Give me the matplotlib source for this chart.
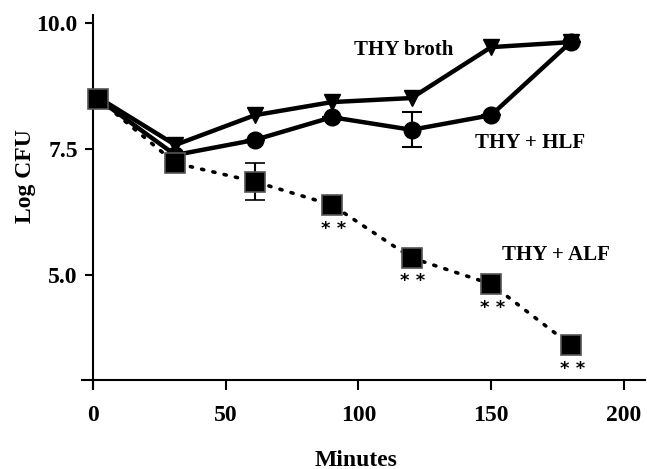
import matplotlib
matplotlib.use("Agg")
import matplotlib.pyplot as plt

# time points (minutes) and log CFU
minutes = [2, 31, 61, 90, 120, 150, 180]
thy_broth = [8.52, 7.58, 8.17, 8.43, 8.51, 9.52, 9.62]
thy_hlf = [8.49, 7.38, 7.68, 8.13, 7.88, 8.17, 9.62]
thy_alf = [8.49, 7.22, 6.85, 6.39, 5.34, 4.82, 3.61]

# error bars (only the visible ones)
hlf_err = [0, 0, 0, 0, 0.35, 0, 0]
alf_err = [0, 0, 0.37, 0, 0, 0, 0]

# ALF points marked as significant
star_idx = [3, 4, 5, 6]

xticks = [0, 50, 100, 150, 200]
yticks = [5.0, 7.5, 10.0]
ytick_labels = ["5.0", "7.5", "10.0"]

plt.rcParams['font.family'] = ['Liberation Serif', 'DejaVu Serif']
plt.rcParams['font.weight'] = 'bold'

fig = plt.figure(figsize=(6.47, 4.69), dpi=100)
ax = fig.add_axes([0.1274, 0.1719, 0.8696, 0.7953])

ax.plot(minutes, thy_broth, color='black', lw=3.2, marker='v', ms=12, zorder=3)
ax.errorbar(minutes, thy_hlf, yerr=hlf_err, color='black', lw=3.2,
            marker='o', ms=12, ecolor='black',
            elinewidth=1.5, capsize=7, capthick=1.5, zorder=3)
ax.errorbar(minutes, thy_alf, yerr=alf_err, color='black', lw=2.6,
            ls=(0, (0.6, 2.6)), dash_capstyle='round', marker='s', ms=14,
            mfc='black', mec='#555555', mew=1.2, ecolor='black',
            elinewidth=1.5, capsize=7, capthick=1.5, zorder=4)

for i in star_idx:
    ax.annotate("* *", (minutes[i], thy_alf[i]), xytext=(1, -17),
                textcoords='offset points', ha='center', va='center',
                fontsize=13, fontweight='bold', family='DejaVu Sans')

# series labels, placed in figure pixels
ax.annotate("THY broth", (0, 0), xycoords='figure pixels', xytext=(404, 469 - 50),
            textcoords='figure pixels', ha='center', va='center', fontsize=15)
ax.annotate("THY + HLF", (0, 0), xycoords='figure pixels', xytext=(530, 469 - 143),
            textcoords='figure pixels', ha='center', va='center', fontsize=15)
ax.annotate("THY + ALF", (0, 0), xycoords='figure pixels', xytext=(556, 469 - 255),
            textcoords='figure pixels', ha='center', va='center', fontsize=15)

ax.set_xlim(-4, 208)
ax.set_ylim(2.75, 10.15)
ax.spines['top'].set_visible(False)
ax.spines['right'].set_visible(False)
ax.spines['left'].set_position(('data', 0))
ax.spines['bottom'].set_position(('data', 2.92))
ax.spines['left'].set_linewidth(1.5)
ax.spines['bottom'].set_linewidth(1.5)

ax.set_xticks(xticks)
ax.set_yticks(yticks)
ax.set_yticklabels(ytick_labels)
ax.tick_params(axis='x', direction='out', length=7, width=1.5, pad=11, labelsize=17)
ax.tick_params(axis='y', direction='out', length=6, width=1.5, pad=5, labelsize=17)

fig.text(356 / 647, 1 - 460 / 469, "Minutes", ha='center', va='center', fontsize=17)
fig.text(26 / 647, 1 - 176 / 469, "Log CFU", ha='center', va='center', rotation=90, fontsize=17)

fig.savefig("out.png", dpi=100)
